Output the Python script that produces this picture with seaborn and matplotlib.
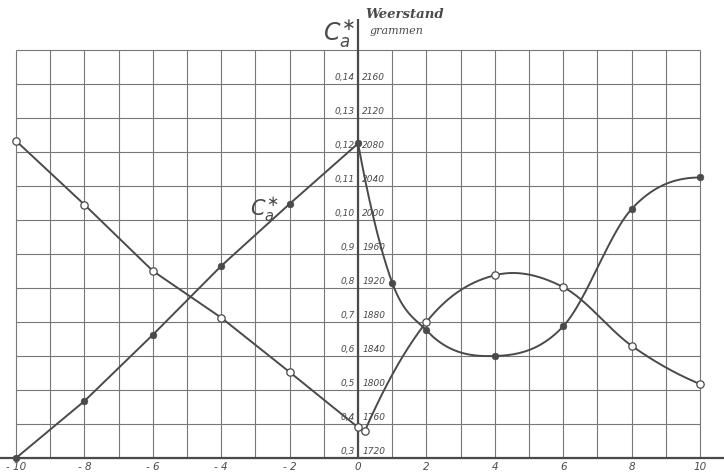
import numpy as np
import pandas as pd
import seaborn as sns
import matplotlib.pyplot as plt

# C_a* (filled dots) -- left straight branch and right curved branch
ca_left_x = [-10, -8, -6, -4, -2, 0]
ca_left_y = [1720, 1787, 1865, 1946, 2019, 2090]
ca_right_x = [0, 1, 2, 4, 6, 8, 10]
ca_right_y = [2090, 1926, 1870, 1840, 1875, 2013, 2050]

# Weerstand in grammen (open dots)
w_left_x = [-10, -8, -6, -4, -2, 0]
w_left_y = [2093, 2018, 1940, 1885, 1821, 1756]
w_right_x = [0.2, 2, 4, 6, 8, 10]
w_right_y = [1752, 1880, 1935, 1921, 1852, 1807]

x_ticks = [-10, -8, -6, -4, -2, 0, 2, 4, 6, 8, 10]
gram_ticks = [1720, 1760, 1800, 1840, 1880, 1920, 1960, 2000, 2040, 2080, 2120, 2160]
ca_labels = ["0,3", "0,4", "0,5", "0,6", "0,7", "0,8", "0,9",
             "0,10", "0,11", "0,12", "0,13", "0,14"]


def smooth(x, y, n=200):
    # cubic hermite through the points, just for drawing the curve
    x = np.asarray(x, float)
    y = np.asarray(y, float)
    h = np.diff(x)
    d = np.diff(y) / h
    m = np.zeros(len(x))
    for k in range(1, len(x) - 1):
        m[k] = (d[k - 1] * h[k] + d[k] * h[k - 1]) / (h[k - 1] + h[k])
    m[0] = ((2 * h[0] + h[1]) * d[0] - h[0] * d[1]) / (h[0] + h[1])
    if np.sign(m[0]) != np.sign(d[0]):
        m[0] = 0
    m[-1] = ((2 * h[-1] + h[-2]) * d[-1] - h[-1] * d[-2]) / (h[-1] + h[-2])
    if np.sign(m[-1]) != np.sign(d[-1]):
        m[-1] = 0
    xs, ys = [], []
    for k in range(len(x) - 1):
        t = np.linspace(0, 1, n)
        h00 = 2 * t**3 - 3 * t**2 + 1
        h10 = t**3 - 2 * t**2 + t
        h01 = -2 * t**3 + 3 * t**2
        h11 = t**3 - t**2
        xs.append(x[k] + t * h[k])
        ys.append(h00 * y[k] + h10 * h[k] * m[k] + h01 * y[k + 1] + h11 * h[k] * m[k + 1])
    return np.concatenate(xs), np.concatenate(ys)


sns.set_style("white")
ink = "#4a4a4a"
grid = "#777777"

fig = plt.figure(figsize=(7.24, 4.77), dpi=100)
ax = fig.add_axes([0, 0, 1, 1])
ax.set_xlim(-10.47, 10.70)
ax.set_ylim(1698.8, 2260)
ax.axis("off")

# grid
ax.vlines(np.arange(-10, 11), 1720, 2200, color=grid, lw=0.8, zorder=1)
ax.hlines(np.arange(1720, 2201, 40), -10, 10, color=grid, lw=0.8, zorder=1)
# axes
ax.hlines(1720, -10.47, 10.70, color=ink, lw=1.6, zorder=2)
ax.vlines(0, 1720, 2236, color=ink, lw=1.6, zorder=2)

# lines
sns.lineplot(x=ca_left_x, y=ca_left_y, ax=ax, color=ink, lw=1.4, sort=False, zorder=3)
sns.lineplot(x=w_left_x, y=w_left_y, ax=ax, color=ink, lw=1.4, sort=False, zorder=3)
sx, sy = smooth(ca_right_x, ca_right_y)
ax.plot(sx, sy, color=ink, lw=1.4, zorder=3)
sx, sy = smooth(w_right_x, w_right_y)
ax.plot(sx, sy, color=ink, lw=1.4, zorder=3)

# markers
filled = pd.DataFrame({"x": ca_left_x + ca_right_x[1:], "y": ca_left_y + ca_right_y[1:]})
opened = pd.DataFrame({"x": w_left_x + w_right_x, "y": w_left_y + w_right_y})
sns.scatterplot(data=filled, x="x", y="y", ax=ax, s=24, color=ink, edgecolor=ink, zorder=4)
sns.scatterplot(data=opened, x="x", y="y", ax=ax, s=28, facecolor="white",
                edgecolor=ink, linewidth=0.9, zorder=4)

# tick labels
for xt in x_ticks:
    ax.text(xt, 1710, f"{xt}" if xt >= 0 else f"- {abs(xt)}", ha="center", va="center",
            fontsize=7.5, style="italic", color=ink)
for g, c in zip(gram_ticks, ca_labels):
    ax.text(-0.1, g + 3, c, ha="right", va="bottom", fontsize=6.5, style="italic", color=ink)
    ax.text(0.12, g + 3, str(g), ha="left", va="bottom", fontsize=6.5, style="italic", color=ink)

# titles
ax.text(-0.08, 2221, r"$C_a^{\ast}$", ha="right", va="center", fontsize=17, color=ink)
ax.text(0.2, 2243, "Weerstand", ha="left", va="center", fontsize=9.5, style="italic",
        weight="bold", color=ink, family="DejaVu Serif")
ax.text(0.35, 2224, "grammen", ha="left", va="center", fontsize=8, style="italic",
        color=ink, family="DejaVu Serif")
ax.text(-3.15, 2013, r"$C_a^{\ast}$", ha="left", va="center", fontsize=15, color=ink)

fig.savefig("out.png", dpi=100, facecolor="white")
